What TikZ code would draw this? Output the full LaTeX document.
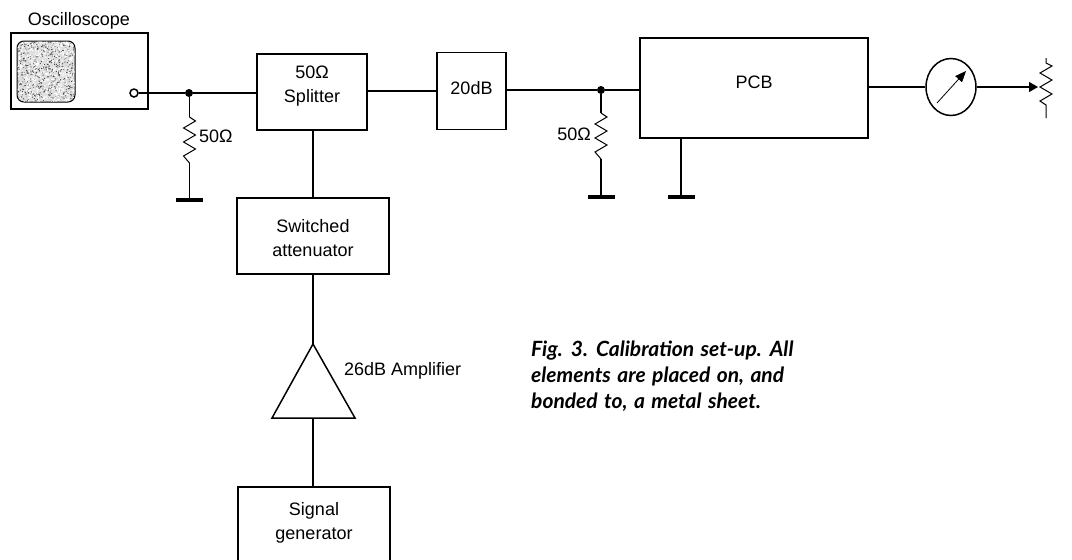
\documentclass[tikz,border=0pt]{standalone}
\usepackage{fontspec}
\setmainfont{Liberation Sans}
\newfontfamily\capfont[WordSpace=1.4]{Lato}
\usetikzlibrary{arrows.meta,shapes.geometric}
\tikzset{
  box/.style={draw,line width=1.5pt,inner sep=0pt},
  lbl/.style={inner sep=0pt,align=center,font=\fontsize{18}{24}\selectfont},
  wire/.style={line width=1.1pt},
  gnd/.style={line width=4pt},
  zig/.style={line width=1pt,line join=miter},
  dotn/.style={circle,fill=black,inner sep=0pt,minimum size=8pt}
}
\newcommand{\vres}[3]{% x, top y, name
  \coordinate (#3t) at (#1,#2);
  \coordinate (#3b) at (#1,#2+46);
  \draw[zig] (#3t) -- ++(6,4) -- ++(-12,7) -- ++(12,7) -- ++(-12,7) -- ++(12,7) -- ++(-12,7) -- ++(6,7) -- (#3b);
}
\begin{document}
\begin{tikzpicture}[x=1pt,y=-1pt]
\useasboundingbox (0,0) rectangle (1072,560);
\clip (0,0) rectangle (1072,560);
% oscilloscope
\node[box,minimum width=137pt,minimum height=76pt] (osc) at (79.5,71) {};
\node[lbl,anchor=base] (osct) at (79,25) {Oscilloscope};
\node[draw,line width=1pt,rounded corners=7pt,minimum width=58pt,minimum height=61pt,inner sep=0pt,fill=gray!25] (screen) at (46,71.5) {};
\pgfmathsetseed{7}
\begin{scope}
\clip[rounded corners=7pt] (17.5,41.5) rectangle (74.5,101.5);
\fill[black!70] foreach \i in {1,...,600} {
  ({17+58*rnd},{41+61*rnd}) rectangle ++(.9,.9)
};
\fill[white] foreach \i in {1,...,500} {
  ({17+58*rnd},{41+61*rnd}) rectangle ++(1.2,1.2)
};
\end{scope}
\node[draw,circle,line width=1.5pt,fill=white,minimum size=8pt,inner sep=0pt] (term) at (134,93) {};
% blocks
\node[box,minimum width=110pt,minimum height=76pt] (split) at (312,92) {};
\node[lbl] (splitt) at (312,86.5) {50Ω\\Splitter};
\node[box,minimum width=69pt,minimum height=77pt] (att) at (471.5,91) {};
\node[lbl] (attt) at (471.5,88) {20dB};
\node[box,minimum width=228pt,minimum height=100pt] (pcb) at (754,88) {};
\node[lbl] (pcbt) at (754,82) {PCB};
\node[box,minimum width=152pt,minimum height=76pt] (sw) at (313,236) {};
\node[lbl] (swt) at (313,238) {Switched\\attenuator};
\node[box,minimum width=152pt,minimum height=100pt] (sig) at (314,537) {};
\node[lbl] (sigt) at (314,523) {Signal\\generator};
% amplifier
\coordinate (ampt) at (313,344);
\coordinate (ampl) at (272,418);
\coordinate (ampr) at (355,418);
\coordinate (ampb) at (313,418);
\draw[line width=1.5pt,line join=miter] (ampt) -- (ampl) -- (ampr) -- cycle;
\node[lbl,anchor=west] (ampx) at (344,371) {26dB Amplifier};
% wires
\node[dotn] (j1) at (189,93) {};
\node[dotn] (j2) at (601,90) {};
\draw[wire] (term) -- (j1) -- (split.west |- j1);
\draw[wire] (split.east |- att) -- (att.west);
\draw[wire] (att.east |- j2) -- (j2) -- (pcb.west |- j2);
\draw[wire] (split.south -| ampt) -- (sw.north -| ampt);
\draw[wire] (sw.south -| ampt) -- (ampt);
\draw[wire] (ampb) -- (sig.north -| ampb);
% resistors
\vres{189.5}{117}{ra}
\vres{601}{113}{rb}
\coordinate (ga) at (189.5,199.5);
\coordinate (gb) at (601,196.5);
\coordinate (gc) at (681,196.5);
\draw[wire] (j1.south -| rat) -- (rat);
\draw[wire] (rab) -- (ga);
\draw[wire] (j2) -- (rbt);
\draw[wire] (rbb) -- (gb);
\draw[wire] (pcb.south -| gc) -- (gc);
\draw[gnd] ([xshift=-13.5pt]ga) -- ([xshift=13.5pt]ga);
\draw[gnd] ([xshift=-13.5pt]gb) -- ([xshift=13.5pt]gb);
\draw[gnd] ([xshift=-13.5pt]gc) -- ([xshift=13.5pt]gc);
\node[lbl,anchor=west] (r1) at (199,136) {50Ω};
\node[lbl,anchor=east] (r2) at (591,134) {50Ω};
% meter
\node[draw,ellipse,line width=1.5pt,minimum width=50pt,minimum height=57pt,inner sep=0pt] (meter) at (951,87) {};
\coordinate (ma) at (937,103);
\coordinate (mb) at (966,71);
\draw[line width=.8pt,-{Triangle[length=11pt,width=9pt]}] (ma) -- (mb);
\draw[wire] (pcb.east |- meter) -- (meter.west);
% potentiometer
\coordinate (pt) at (1046,58);
\coordinate (tip) at (1038,87);
\draw[zig] (pt) -- ++(0,5) -- ++(6,3) -- ++(-12,7) -- ++(12,7) -- ++(-12,7) -- ++(12,7) -- ++(-12,7) -- ++(6,4) -- ++(0,13);
\draw[wire,-{Triangle[length=9pt,width=10pt]}] (meter.east) -- (tip);
% caption
\node[anchor=north west,inner sep=0pt,align=left,font=\capfont\bfseries\itshape\fontsize{21}{26}\selectfont] (cap) at (531,341) {Fig. 3. Calibration set-up. All\\elements are placed on, and\\bonded to, a metal sheet.};
\end{tikzpicture}
\end{document}
